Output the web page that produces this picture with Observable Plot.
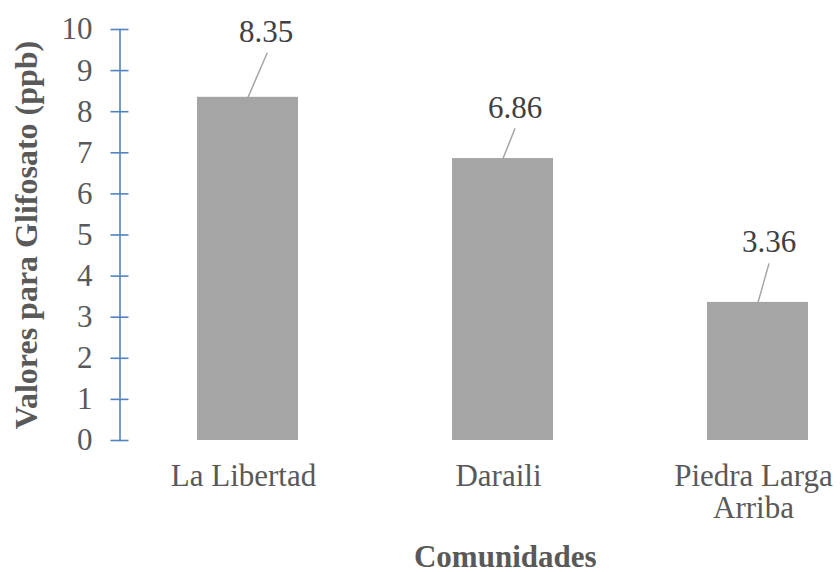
<!DOCTYPE html>
<html>
<head>
<meta charset="utf-8">
<script src="https://cdn.jsdelivr.net/npm/d3@7"></script>
<script src="https://cdn.jsdelivr.net/npm/@observablehq/plot@0.6"></script>
<style>
  html, body { margin: 0; padding: 0; background: #ffffff; }
  #chart { width: 840px; height: 572px; overflow: hidden; }
</style>
</head>
<body>
<div id="chart"></div>
<script>
// ---- data ----
const categories = ["La Libertad", "Daraili", "Piedra Larga\nArriba"];
const values = [8.35, 6.86, 3.36];
const valueLabels = ["8.35", "6.86", "3.36"];
const yTicks = [0, 1, 2, 3, 4, 5, 6, 7, 8, 9, 10];
const yTitle = "Valores para Glifosato (ppb)";
const xTitle = "Comunidades";

const rows = categories.map((c, i) => ({category: c, value: values[i], label: valueLabels[i]}));

// ---- styles ----
const FONT = "'Liberation Serif', 'Times New Roman', serif";
const AXIS_BLUE = "#5282c2";
const TEXT_GRAY = "#595959";
const BAR_GRAY = "#a5a5a5";
// leader line + label offsets (px) for each bar's data label
const annot = [
  {dx: 18, dy: -55, len: 48, rot: 23.4},
  {dx: 12, dy: -41, len: 32, rot: 21.8},
  {dx: 11, dy: -50, len: 40, rot: 15.8}
];
const lineShape = {draw(context, l) { context.moveTo(0, 0); context.lineTo(0, -l); }};

const marks = [
  Plot.barY(rows, {x: "category", y: "value", fill: BAR_GRAY}),
  Plot.frame({anchor: "left", stroke: AXIS_BLUE, strokeWidth: 1.6}),
  Plot.axisY({ticks: yTicks, tickSize: 18, dx: 9, tickPadding: 18.5, stroke: AXIS_BLUE, strokeWidth: 1.6,
              fill: TEXT_GRAY, fontSize: 31, label: null, tickFormat: d => String(d)}),
  Plot.axisX({tickSize: 0, tickPadding: 22, dx: -4.5, fill: TEXT_GRAY, fontSize: 31, label: null, lineHeight: 1.05}),
  Plot.text([yTitle], {frameAnchor: "left", textAnchor: "middle", dx: -93, rotate: -90, text: d => d, fill: TEXT_GRAY,
              fontSize: 32, fontWeight: "bold"}),
  Plot.text([xTitle], {frameAnchor: "bottom", textAnchor: "middle", dx: 25, dy: 126, lineAnchor: "bottom", text: d => d, fill: TEXT_GRAY,
              fontSize: 31, fontWeight: "bold"})
];
rows.forEach((r, i) => {
  const a = annot[i];
  marks.push(Plot.vector([r], {x: "category", y: "value", length: a.len, rotate: a.rot, anchor: "start",
                               shape: lineShape, stroke: BAR_GRAY, strokeWidth: 1.5}));
  marks.push(Plot.text([r], {x: "category", y: "value", text: "label", dx: a.dx, dy: a.dy, lineAnchor: "bottom",
                             fill: "#404040", fontSize: 31}));
});

const chart = Plot.plot({
  width: 840,
  height: 572,
  marginLeft: 119.5,
  marginRight: 0,
  marginTop: 29,
  marginBottom: 132,
  style: {fontFamily: FONT, fontSize: "31px", background: "#ffffff", color: TEXT_GRAY, overflow: "visible"},
  x: {domain: categories, range: [119.5, 886], paddingInner: 0.605, paddingOuter: 0.3025, axis: null},
  y: {domain: [0, 10], axis: null},
  marks
});
document.getElementById("chart").appendChild(chart);
</script>
</body>
</html>
